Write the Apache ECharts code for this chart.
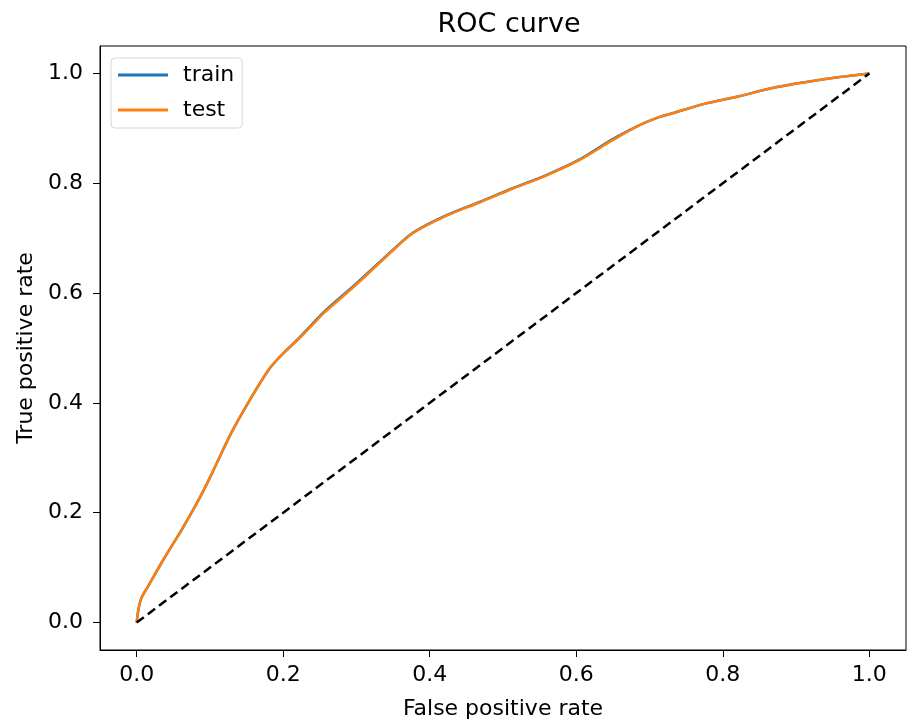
<!DOCTYPE html>
<html>
<head>
<meta charset="utf-8">
<script src="https://cdn.jsdelivr.net/npm/echarts@6/dist/echarts.min.js"></script>
<style>
  html, body { margin: 0; padding: 0; background: #fff; }
  #chart { width: 908px; height: 722px; }
</style>
</head>
<body>
<div id="chart"></div>
<script>
// ROC points (false positive rate, true positive rate)
const fpr = [0, 0.003, 0.007, 0.016, 0.038, 0.061, 0.084, 0.1, 0.129, 0.153, 0.18, 0.2, 0.22, 0.24, 0.255, 0.301, 0.35, 0.377, 0.423, 0.468, 0.513, 0.559, 0.604, 0.649, 0.685, 0.712, 0.73, 0.776, 0.821, 0.866, 0.912, 0.957, 1.0]
const tprTrain = [0, 0.028, 0.046, 0.067, 0.118, 0.168, 0.222, 0.264, 0.345, 0.402, 0.46, 0.49, 0.516, 0.544, 0.565, 0.619, 0.679, 0.71, 0.742, 0.766, 0.791, 0.815, 0.843, 0.88, 0.905, 0.92, 0.927, 0.945, 0.958, 0.973, 0.984, 0.993, 1.0]
const tprTest = [0, 0.028, 0.046, 0.067, 0.118, 0.168, 0.222, 0.264, 0.345, 0.402, 0.46, 0.49, 0.515, 0.542, 0.563, 0.617, 0.678, 0.709, 0.741, 0.765, 0.79, 0.814, 0.842, 0.878, 0.905, 0.92, 0.927, 0.945, 0.958, 0.973, 0.984, 0.993, 1.0]
const chance = [[0, 0], [1, 1]]
const tickValues = [0, 0.2, 0.4, 0.6, 0.8, 1.0]

const chart = echarts.init(document.getElementById('chart'))

const font = 'DejaVu Sans'

const axisCommon = {
  type: 'value',
  min: -0.05,
  max: 1.05,
  nameLocation: 'middle',
  nameTextStyle: { fontFamily: font, fontSize: 22, color: '#000' },
  axisLine: { show: true, onZero: false, lineStyle: { color: '#000', width: 1 } },
  axisTick: { show: true, inside: false, length: 7, customValues: tickValues, lineStyle: { color: '#000' } },
  axisLabel: {
    customValues: tickValues,
    formatter: (v) => v.toFixed(1),
    fontFamily: font,
    fontSize: 22,
    color: '#000',
  },
  splitLine: { show: false },
}

const option = {
  animation: false,
  title: {
    text: 'ROC curve',
    left: 504,
    top: 6,
    textAlign: 'center',
    textStyle: { fontFamily: font, fontSize: 27, fontWeight: 'normal', color: '#000' },
  },
  legend: {
    data: ['train', 'test'],
    orient: 'vertical',
    left: 111,
    top: 58,
    itemWidth: 50,
    itemHeight: 3,
    itemGap: 13,
    padding: [6, 8, 7, 7],
    backgroundColor: '#fff',
    borderColor: '#d6d6d6',
    borderWidth: 1,
    borderRadius: 4,
    textStyle: { fontFamily: font, fontSize: 22, color: '#000', padding: [0, 0, 0, 10] },
    icon: 'rect',
  },
  grid: {
    left: 100,
    right: 2,
    top: 46,
    bottom: 72,
    outerBoundsMode: 'none',
    containLabel: false,
    show: true,
    borderColor: '#000',
    borderWidth: 1,
  },
  xAxis: Object.assign({}, axisCommon, {
    name: 'False positive rate',
    nameGap: 48,
    axisLabel: Object.assign({}, axisCommon.axisLabel, { margin: 14 }),
  }),
  yAxis: Object.assign({}, axisCommon, {
    name: 'True positive rate',
    nameGap: 54,
    axisLabel: Object.assign({}, axisCommon.axisLabel, { margin: 17 }),
  }),
  series: [
    {
      name: 'train',
      type: 'line',
      data: fpr.map((x, i) => [x, tprTrain[i]]),
      showSymbol: false,
      smooth: 0.3,
      lineStyle: { color: '#1f77b4', width: 2.5 },
      itemStyle: { color: '#1f77b4' },
    },
    {
      name: 'test',
      type: 'line',
      data: fpr.map((x, i) => [x, tprTest[i]]),
      showSymbol: false,
      smooth: 0.3,
      lineStyle: { color: '#ff7f0e', width: 2.5 },
      itemStyle: { color: '#ff7f0e' },
    },
    {
      name: 'chance',
      type: 'line',
      data: chance,
      showSymbol: false,
      lineStyle: { color: '#000', width: 2.5, type: [9, 5] },
    },
  ],
}

chart.setOption(option)
</script>
</body>
</html>
